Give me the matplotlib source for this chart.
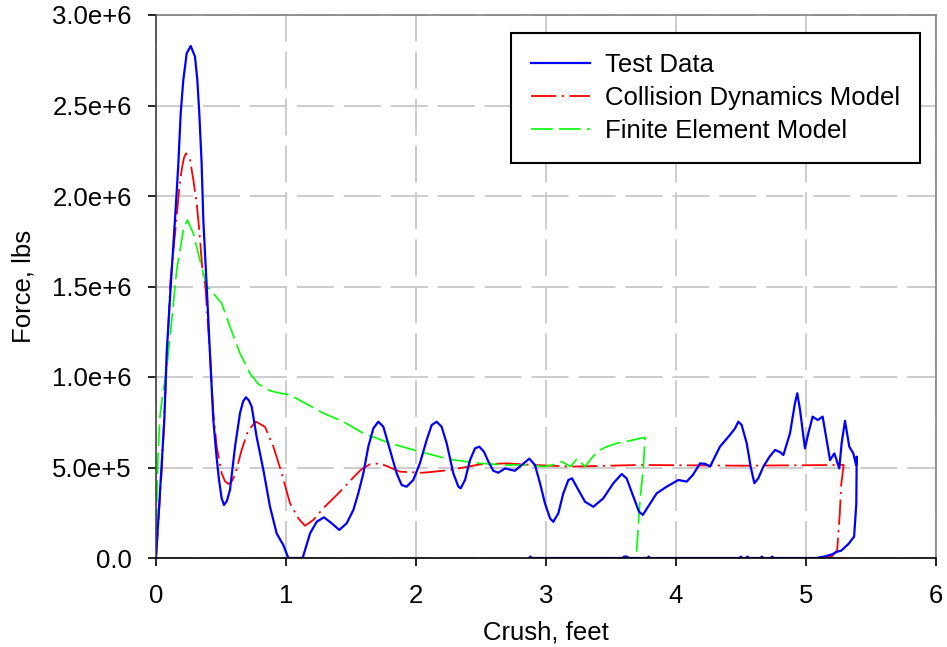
import matplotlib
matplotlib.use("Agg")
import matplotlib.pyplot as plt
from matplotlib.ticker import FixedLocator, FixedFormatter

plt.rcParams['font.family'] = ['Liberation Sans', 'DejaVu Sans']

# ---- data (crush in feet, force in 1e6 lbs) ----
test_x = [0.0, 0.035, 0.064, 0.082, 0.113, 0.141, 0.154, 0.172, 0.19, 0.21, 0.236, 0.267,
          0.30, 0.318, 0.333, 0.351, 0.364, 0.39, 0.415, 0.441, 0.467, 0.485, 0.505, 0.523,
          0.545, 0.569, 0.608, 0.646, 0.67, 0.692, 0.715, 0.736, 0.774, 0.826, 0.877, 0.928,
          0.979, 1.018, 1.128, 1.185, 1.236, 1.292, 1.351, 1.41, 1.467, 1.518, 1.556, 1.595,
          1.633, 1.672, 1.71, 1.749, 1.80, 1.851, 1.89, 1.928, 1.979, 2.03, 2.082, 2.121,
          2.159, 2.197, 2.236, 2.287, 2.326, 2.344, 2.377, 2.415, 2.454, 2.487, 2.523, 2.557,
          2.595, 2.633, 2.685, 2.72, 2.76, 2.813, 2.872, 2.915, 2.954, 2.992, 3.031, 3.056,
          3.095, 3.133, 3.172, 3.20, 3.249, 3.30, 3.364, 3.441, 3.518, 3.582, 3.62, 3.672,
          3.715, 3.745, 3.80, 3.851, 3.928, 4.018, 4.082, 4.13, 4.185, 4.225, 4.262, 4.338,
          4.415, 4.454, 4.479, 4.505, 4.544, 4.574, 4.603, 4.633, 4.672, 4.72, 4.762, 4.80,
          4.826, 4.877, 4.915, 4.933, 4.954, 4.992, 5.018, 5.051, 5.09, 5.128, 5.154, 5.185,
          5.218, 5.256, 5.274, 5.30, 5.333, 5.364, 5.385, 5.39,
          5.387, 5.37, 5.35, 5.33, 5.30, 5.27, 5.24, 5.20, 5.16, 5.12, 5.08,
          4.75, 4.74, 4.73, 4.67, 4.66, 4.65, 4.56, 4.55, 4.54, 4.51, 4.50, 4.49,
          3.80, 3.79, 3.78, 3.64, 3.62, 3.60, 3.59, 2.89, 2.88, 2.87]
test_y = [0.0, 0.42, 0.762, 1.131, 1.50, 1.81, 1.96, 2.18, 2.457, 2.64, 2.788, 2.829,
          2.77, 2.64, 2.457, 2.18, 1.867, 1.50, 1.131, 0.762, 0.55, 0.43, 0.33, 0.293,
          0.315, 0.376, 0.615, 0.80, 0.865, 0.888, 0.87, 0.836, 0.67, 0.486, 0.283, 0.136,
          0.072, 0.0, 0.0, 0.136, 0.20, 0.225, 0.192, 0.155, 0.192, 0.265, 0.357, 0.468,
          0.615, 0.716, 0.753, 0.725, 0.597, 0.468, 0.403, 0.394, 0.431, 0.523, 0.652, 0.735,
          0.753, 0.725, 0.634, 0.468, 0.394, 0.385, 0.431, 0.54, 0.606, 0.615, 0.587, 0.532,
          0.482, 0.471, 0.495, 0.489, 0.482, 0.514, 0.549, 0.514, 0.413, 0.302, 0.219, 0.20,
          0.247, 0.357, 0.431, 0.44, 0.376, 0.311, 0.283, 0.33, 0.413, 0.464, 0.44, 0.339,
          0.256, 0.238, 0.30, 0.357, 0.394, 0.431, 0.422, 0.459, 0.523, 0.52, 0.505, 0.615,
          0.68, 0.716, 0.753, 0.735, 0.634, 0.505, 0.413, 0.44, 0.505, 0.56, 0.597, 0.585,
          0.569, 0.689, 0.855, 0.91, 0.818, 0.606, 0.689, 0.781, 0.762, 0.781, 0.67, 0.541,
          0.578, 0.495, 0.634, 0.758, 0.615, 0.578, 0.514, 0.56,
          0.30, 0.118, 0.10, 0.08, 0.06, 0.04, 0.035, 0.02, 0.012, 0.005, 0.0,
          0.0, 0.008, 0.0, 0.0, 0.008, 0.0, 0.0, 0.008, 0.0, 0.0, 0.008, 0.0,
          0.0, 0.008, 0.0, 0.0, 0.008, 0.008, 0.0, 0.0, 0.008, 0.0]

cdm_x = [0.0, 0.046, 0.111, 0.159, 0.18, 0.197, 0.215, 0.231, 0.262, 0.287, 0.313, 0.333,
         0.356, 0.38, 0.415, 0.441, 0.467, 0.505, 0.53, 0.556, 0.58, 0.608, 0.659, 0.71,
         0.769, 0.838, 0.903, 0.967, 1.031, 1.095, 1.146, 1.21, 1.287, 1.39, 1.46, 1.518,
         1.58, 1.646, 1.723, 1.80, 1.877, 2.056, 2.26, 2.49, 2.698, 2.9, 3.2, 3.72, 4.5,
         5.29, 5.27, 5.26, 5.24, 5.20, 5.08]
cdm_y = [0.0, 0.506, 1.53, 1.886, 2.05, 2.144, 2.21, 2.236, 2.20, 2.09, 1.96, 1.81,
         1.60, 1.50, 1.131, 0.80, 0.615, 0.468, 0.425, 0.409, 0.42, 0.459, 0.597, 0.707,
         0.753, 0.725, 0.615, 0.468, 0.302, 0.219, 0.178, 0.21, 0.275, 0.348, 0.40, 0.445,
         0.49, 0.518, 0.523, 0.50, 0.477, 0.471, 0.486, 0.517, 0.523, 0.514, 0.505, 0.514, 0.51,
         0.514, 0.40, 0.247, 0.044, 0.01, 0.0]

fem_x = [0.0, 0.006, 0.015, 0.03, 0.051, 0.082, 0.121, 0.159, 0.21, 0.241, 0.287, 0.338,
         0.39, 0.441, 0.505, 0.569, 0.646, 0.723, 0.787, 0.877, 0.928, 1.031, 1.159, 1.287,
         1.44, 1.595, 1.80, 2.03, 2.26, 2.49, 2.698, 2.87, 2.98, 3.05, 3.12, 3.19, 3.24,
         3.30, 3.364, 3.415, 3.467, 3.544, 3.646, 3.762, 3.749, 3.723, 3.698, 3.685]
fem_y = [0.0, 0.30, 0.55, 0.78, 0.90, 1.04, 1.315, 1.59, 1.81, 1.867, 1.794, 1.646,
         1.50, 1.462, 1.407, 1.278, 1.131, 1.02, 0.961, 0.924, 0.915, 0.90, 0.851, 0.80,
         0.753, 0.689, 0.634, 0.587, 0.545, 0.523, 0.514, 0.514, 0.505, 0.514, 0.532, 0.505,
         0.55, 0.505, 0.563, 0.597, 0.615, 0.634, 0.648, 0.667, 0.50, 0.32, 0.044, 0.0]

x_ticks = [0, 1, 2, 3, 4, 5, 6]
y_ticks = [0.0, 0.5, 1.0, 1.5, 2.0, 2.5, 3.0]
y_tick_labels = ["0.0", "5.0e+5", "1.0e+6", "1.5e+6", "2.0e+6", "2.5e+6", "3.0e+6"]

series_names = ["Test Data", "Collision Dynamics Model", "Finite Element Model"]

FS = 18.5

# ---- figure ----
fig = plt.figure(figsize=(9.47, 6.47), dpi=100)
ax = fig.add_axes([156/947, 1 - 558/647, (936-156)/947, (558-15)/647])

ax.plot(test_x, test_y, color='#0000ff', lw=1.6, label=series_names[0], zorder=4)
ax.plot(cdm_x, cdm_y, color='#ff0000', lw=1.3, dashes=(14, 3, 1.2, 3),
        label=series_names[1], zorder=3)
ax.plot(fem_x, fem_y, color='#00ff00', lw=1.2, dashes=(13, 3.8),
        label=series_names[2], zorder=3)

ax.set_xlim(0, 6)
ax.set_ylim(0, 3.0)
ax.xaxis.set_major_locator(FixedLocator(x_ticks))
ax.yaxis.set_major_locator(FixedLocator(y_ticks))
ax.yaxis.set_major_formatter(FixedFormatter(y_tick_labels))

ax.grid(True, color='#c8c8c8', lw=1.3, dashes=(20.5, 5.5))
ax.set_axisbelow(True)

for s in ['left', 'bottom']:
    ax.spines[s].set_color('black')
    ax.spines[s].set_linewidth(1.2)
    ax.spines[s].set_zorder(5)
ax.spines['left'].set_color('#404040')
for s in ['top', 'right']:
    ax.spines[s].set_color('#808080')
    ax.spines[s].set_linewidth(1.2)

ax.tick_params(direction='out', length=6, width=1.2, labelsize=FS, colors='black')
ax.tick_params(axis='x', pad=12.5)
ax.tick_params(axis='y', pad=11.5)

ax.set_xlabel("Crush, feet", fontsize=FS, labelpad=9)
ax.set_ylabel("Force, lbs", fontsize=FS, labelpad=12)

leg = ax.legend(loc='upper right', bbox_to_anchor=(920/947, 1 - 33/647),
                bbox_transform=fig.transFigure, fontsize=FS, fancybox=False,
                edgecolor='black', framealpha=1, handlelength=2.3, borderpad=0.77,
                labelspacing=0.35, handletextpad=0.6, borderaxespad=0)
leg.get_frame().set_linewidth(1.5)

fig.savefig("out.png", dpi=100)
